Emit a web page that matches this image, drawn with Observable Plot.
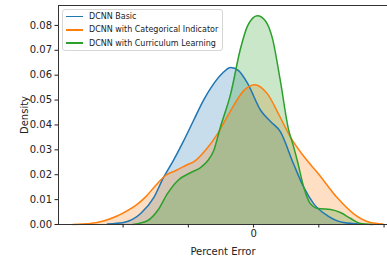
<!DOCTYPE html>
<html>
<head>
<meta charset="utf-8">
<script src="https://cdn.jsdelivr.net/npm/d3@7"></script>
<script src="https://cdn.jsdelivr.net/npm/@observablehq/plot@0.6"></script>
<style>
  body { margin: 0; background: #fff; font-family: "DejaVu Sans", sans-serif; }
  #wrap { position: relative; width: 387px; height: 260px; overflow: hidden; }
  #legend { position: absolute; left: 62px; top: 9px; width: 159px; height: 40px;
    border: 1px solid #d6d6d6; border-radius: 3px; background: rgba(255,255,255,0.8);
    font-size: 8px; color: #222; }
  .row { position: absolute; left: 3px; height: 10px; display: flex; align-items: center; }
  .sw { width: 17px; height: 1.5px; margin-right: 6px; }
</style>
</head>
<body>
<div id="wrap"><div id="legend"></div></div>
<script>
const seriesNames = ["DCNN Basic", "DCNN with Categorical Indicator", "DCNN with Curriculum Learning"];
const seriesColors = ["#1f77b4", "#ff7f0e", "#2ca02c"];

// Basic
const basicX = [-22.4,-19.9,-17.3,-15.3,-13.8,-12.3,-10.7,-9.2,-7.7,-6.1,-4.7,-3.5,-2.3,-0.9,1.1,2.6,4.1,6.1,7.7,9.2,11.3,13.8,16.4];
const basicY = [0.0002,0.0008,0.0044,0.0108,0.0189,0.0257,0.0337,0.0418,0.0498,0.0566,0.0610,0.0631,0.0618,0.0566,0.0458,0.0414,0.0373,0.0245,0.0149,0.0084,0.0036,0.0008,0.0002];
// Categorical indicator
const catX = [-27.7,-25.0,-23.0,-21.1,-19.6,-18.1,-16.5,-15.0,-13.5,-11.9,-10.4,-8.9,-7.4,-5.5,-3.5,-1.5,0.15,2.1,4.1,5.7,7.6,9.9,12.8,15.3,17.9,19.8];
const catY = [0,0.0004,0.0014,0.0032,0.0052,0.0076,0.0112,0.0157,0.0197,0.0217,0.0237,0.0257,0.0297,0.0365,0.0458,0.0538,0.0562,0.0526,0.0430,0.0349,0.0277,0.0205,0.0108,0.0044,0.0008,0.0002];
// Curriculum learning
const curX = [-18.5,-16.2,-14.7,-13.2,-11.6,-9.6,-8.1,-7.0,-6.1,-5.1,-3.5,-2.0,-0.9,0.6,1.8,2.9,4.1,5.4,6.0,6.7,7.7,8.7,9.9,11.8,13.3,14.9,16.4,18.2];
const curY = [0,0.0016,0.0056,0.0124,0.0177,0.0209,0.0229,0.0257,0.0297,0.0390,0.0526,0.0707,0.0799,0.0839,0.0819,0.0747,0.0578,0.0377,0.0325,0.0257,0.0149,0.0084,0.0064,0.0060,0.0048,0.0024,0.0004,0];

const yTicks = [0,0.01,0.02,0.03,0.04,0.05,0.06,0.07,0.08];
const xTicks = [-20,-10,0,10,20];
const xTickLabels = ["", "", "0", "", ""];

const xs = [basicX, catX, curX], ys = [basicY, catY, curY];
const data = [];
xs.forEach((arr, s) => arr.forEach((x, i) => data.push({series: seriesNames[s], x, y: ys[s][i]})));

const X0 = -29.9, X1 = 21.6, YMAX = 0.088;
const marks = [];
seriesNames.forEach((name, s) => {
  const d = data.filter(r => r.series === name);
  marks.push(Plot.areaY(d, {x: "x", y: "y", fill: seriesColors[s], fillOpacity: 0.25, curve: "monotone-x"}));
});
seriesNames.forEach((name, s) => {
  const d = data.filter(r => r.series === name);
  marks.push(Plot.lineY(d, {x: "x", y: "y", stroke: seriesColors[s], strokeWidth: 1.5, curve: "monotone-x"}));
});
marks.push(Plot.ruleY([0, YMAX], {stroke: "#333", strokeWidth: 1}));
marks.push(Plot.ruleX([X0], {stroke: "#333", strokeWidth: 1}));
marks.push(Plot.axisY({ticks: yTicks, tickFormat: d3.format(".2f"), tickSize: 3.5, tickPadding: 3, label: "Density", labelArrow: "none", labelAnchor: "center", labelOffset: 38, color: "#222"}));
marks.push(Plot.axisX({ticks: xTicks, tickFormat: (d, i) => xTickLabels[i], tickSize: 3.5, tickPadding: 2, label: "Percent Error", labelArrow: "none", labelAnchor: "center", labelOffset: 30, color: "#222"}));

const chart = Plot.plot({
  width: 387, height: 260,
  marginLeft: 58, marginRight: 0, marginTop: 5, marginBottom: 36,
  style: {fontFamily: "DejaVu Sans, sans-serif", fontSize: "10px", background: "white", overflow: "visible"},
  x: {domain: [X0, X1], range: [58, 394]},
  y: {domain: [0, YMAX]},
  marks
});
const wrap = document.getElementById("wrap");
wrap.insertBefore(chart, wrap.firstChild);

const legend = document.getElementById("legend");
seriesNames.forEach((name, s) => {
  const row = document.createElement("div");
  row.className = "row";
  row.style.top = (1.5 + s * 13.3) + "px";
  row.innerHTML = `<span class="sw" style="background:${seriesColors[s]}"></span><span>${name}</span>`;
  legend.appendChild(row);
});
</script>
</body>
</html>
